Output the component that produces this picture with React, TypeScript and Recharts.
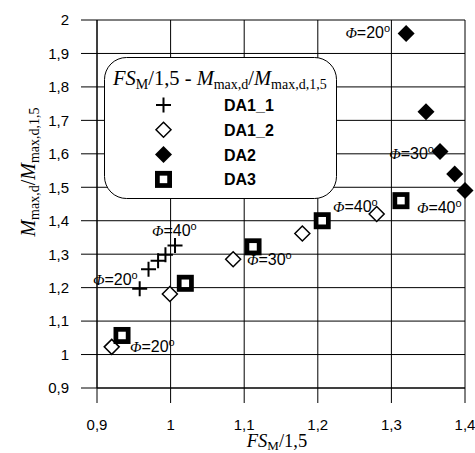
import React from 'react';
import { ScatterChart, Scatter, XAxis, YAxis, CartesianGrid, Legend, Label } from 'recharts';

// Axis ticks
const xTicks = [0.9, 1.0, 1.1, 1.2, 1.3, 1.4];
const yTicks = [0.9, 1.0, 1.1, 1.2, 1.3, 1.4, 1.5, 1.6, 1.7, 1.8, 1.9, 2.0];

// FS_M/1,5 (x) against M_max,d/M_max,d,1,5 (y); phi = friction angle tag (degrees)
const da1_1X = [0.958, 0.97, 0.983, 0.993, 1.006];
const da1_1Y = [1.197, 1.255, 1.28, 1.298, 1.326];
const da1_1Phi = [20, null, null, null, 40];

const da1_2X = [0.92, 0.999, 1.085, 1.179, 1.28];
const da1_2Y = [1.023, 1.181, 1.285, 1.362, 1.42];
const da1_2Phi = [null, null, null, null, 40];

const da2X = [1.32, 1.347, 1.366, 1.386, 1.4];
const da2Y = [1.96, 1.726, 1.607, 1.54, 1.49];
const da2Phi = [20, null, 30, null, null];

const da3X = [0.934, 1.02, 1.112, 1.206, 1.313];
const da3Y = [1.057, 1.213, 1.322, 1.4, 1.46];
const da3Phi = [20, null, 30, null, 40];

const seriesNames = ['DA1_1', 'DA1_2', 'DA2', 'DA3'];

type Pt = { x: number; y: number; phi: number | null; i: number };
const toPoints = (xs: number[], ys: number[], phis: (number | null)[]): Pt[] =>
  xs.map((x, i) => ({ x, y: ys[i], phi: phis[i], i }));

const SANS = 'Liberation Sans, Arial, sans-serif';
const SERIF = 'Liberation Serif, Times New Roman, serif';

// Marker glyphs
const PlusMark = ({ cx, cy }: { cx: number; cy: number }) => (
  <path d={`M${cx - 7.5},${cy}H${cx + 7.5}M${cx},${cy - 7.5}V${cy + 7.5}`} stroke="#000" strokeWidth={2} fill="none" />
);
const OpenDiamond = ({ cx, cy }: { cx: number; cy: number }) => (
  <path d={`M${cx},${cy - 7.5}L${cx + 7.5},${cy}L${cx},${cy + 7.5}L${cx - 7.5},${cy}Z`} fill="#fff" stroke="#000" strokeWidth={1.5} />
);
const FilledDiamond = ({ cx, cy }: { cx: number; cy: number }) => (
  <path d={`M${cx},${cy - 8.5}L${cx + 8.5},${cy}L${cx},${cy + 8.5}L${cx - 8.5},${cy}Z`} fill="#000" />
);
const SquareMark = ({ cx, cy }: { cx: number; cy: number }) => (
  <g>
    <rect x={cx - 8.5} y={cy - 8.5} width={17} height={17} fill="#000" />
    <rect x={cx - 3.75} y={cy - 3.75} width={7.5} height={7.5} fill="#fff" />
  </g>
);

const markers: Record<string, React.FC<{ cx: number; cy: number }>> = {
  DA1_1: PlusMark,
  DA1_2: OpenDiamond,
  DA2: FilledDiamond,
  DA3: SquareMark,
};

type Place = { dx: number; dy: number; anchor: 'start' | 'end' };

// Where each phi tag sits relative to its point
const places: Record<string, (Place | null)[]> = {
  DA1_1: [{ dx: -2, dy: -3.5, anchor: 'end' }, null, null, null, { dx: -23, dy: -9.5, anchor: 'start' }],
  DA1_2: [null, null, null, null, { dx: 1, dy: -2.5, anchor: 'end' }],
  DA2: [{ dx: -16, dy: 5, anchor: 'end' }, null, { dx: -6, dy: 7.5, anchor: 'end' }, null, null],
  DA3: [{ dx: 8, dy: 16.5, anchor: 'start' }, null, { dx: -6, dy: 18.5, anchor: 'start' }, null, { dx: 16, dy: 12.5, anchor: 'start' }],
};

const PhiText = ({ x, y, anchor, value }: { x: number; y: number; anchor: string; value: number }) => (
  <text x={x} y={y} textAnchor={anchor} fill="#000" fontFamily={SANS} fontSize={16}>
    <tspan fontFamily={SERIF} fontStyle="italic" fontSize={15}>Φ</tspan>
    <tspan>={value}</tspan>
    <tspan fontSize={11} dy={-6}>o</tspan>
  </text>
);

const pointShape = (name: string) => (p: any) => {
  const { cx, cy, payload } = p;
  const M = markers[name];
  const pl = places[name][payload.i];
  return (
    <g>
      <M cx={cx} cy={cy} />
      {payload.phi != null && pl && (
        <PhiText x={cx + pl.dx} y={cy + pl.dy} anchor={pl.anchor} value={payload.phi} />
      )}
    </g>
  );
};

const renderLegend = (props: any) => {
  const payload = props.payload || [];
  return (
    <svg width={234} height={143} style={{ display: 'block' }}>
      <rect x={0.5} y={0.5} width={232} height={141} rx={22} ry={22} fill="#fff" stroke="#000" strokeWidth={1} />
      <text x={9} y={28} fontFamily={SERIF} fontSize={20.5} fill="#000">
        <tspan fontStyle="italic">FS</tspan>
        <tspan fontSize={14} dy={4}>M</tspan>
        <tspan dy={-4}>/1,5 - </tspan>
        <tspan fontStyle="italic">M</tspan>
        <tspan fontSize={14} dy={4}>max,d</tspan>
        <tspan dy={-4}>/</tspan>
        <tspan fontStyle="italic">M</tspan>
        <tspan fontSize={14} dy={4}>max,d,1,5</tspan>
      </text>
      {payload.map((entry: any, k: number) => {
        const M = markers[entry.value];
        const cy = 48 + k * 24.8;
        return (
          <g key={entry.value}>
            {M && <M cx={59.5} cy={cy} />}
            <text x={120} y={cy + 6} fontFamily={SANS} fontWeight="bold" fontSize={16} fill="#000">
              {entry.value}
            </text>
          </g>
        );
      })}
    </svg>
  );
};

const XTitle = (props: any) => {
  const vb = props.viewBox;
  return (
    <text x={vb.x + vb.width / 2 - 4} y={vb.y + 59} textAnchor="middle" fontFamily={SERIF} fontSize={18.5} fill="#000">
      <tspan fontStyle="italic">FS</tspan>
      <tspan fontSize={13} dy={2.5}>M</tspan>
      <tspan dy={-2.5}>/1,5</tspan>
    </text>
  );
};

const YTitle = (props: any) => {
  const vb = props.viewBox;
  const x = vb.x + 35;
  const y = vb.y + 152;
  return (
    <text x={x} y={y} transform={`rotate(-90, ${x}, ${y})`} textAnchor="middle" fontFamily={SERIF} fontSize={20} fill="#000">
      <tspan fontStyle="italic">M</tspan>
      <tspan fontSize={14} dy={4}>max,d</tspan>
      <tspan dy={-4}>/</tspan>
      <tspan fontStyle="italic">M</tspan>
      <tspan fontSize={14} dy={4}>max,d,1,5</tspan>
    </text>
  );
};

const fmt = (v: number) => String(Math.round(v * 10) / 10).replace('.', ',');

export default function App() {
  return (
    <div style={{ position: 'absolute', left: 0, top: 0, width: 475, height: 453, background: '#fff' }}>
      <ScatterChart width={475} height={453} margin={{ top: 20, right: 10, bottom: 0, left: 0 }}>
        <CartesianGrid stroke="#000" strokeWidth={1} />
        <XAxis
          type="number"
          dataKey="x"
          domain={[0.9, 1.4]}
          ticks={xTicks}
          tickFormatter={fmt}
          height={65}
          tickSize={15}
          tickMargin={16}
          axisLine={{ stroke: '#000' }}
          tickLine={{ stroke: '#000' }}
          tick={{ fill: '#000', fontSize: 15, fontFamily: SANS }}
          interval={0}
        >
          <Label content={XTitle} />
        </XAxis>
        <YAxis
          type="number"
          dataKey="y"
          domain={[0.9, 2]}
          ticks={yTicks}
          tickFormatter={fmt}
          width={97}
          tickSize={16}
          tickMargin={12}
          axisLine={{ stroke: '#000' }}
          tickLine={{ stroke: '#000' }}
          tick={{ fill: '#000', fontSize: 15, fontFamily: SANS }}
          interval={0}
        >
          <Label content={YTitle} />
        </YAxis>
        <Legend
          layout="vertical"
          align="center"
          verticalAlign="middle"
          content={renderLegend}
          wrapperStyle={{ left: 104, top: 57, width: 234, height: 143 }}
        />
        <Scatter name={seriesNames[0]} data={toPoints(da1_1X, da1_1Y, da1_1Phi)} shape={pointShape('DA1_1')} isAnimationActive={false} />
        <Scatter name={seriesNames[1]} data={toPoints(da1_2X, da1_2Y, da1_2Phi)} shape={pointShape('DA1_2')} isAnimationActive={false} />
        <Scatter name={seriesNames[2]} data={toPoints(da2X, da2Y, da2Phi)} shape={pointShape('DA2')} isAnimationActive={false} />
        <Scatter name={seriesNames[3]} data={toPoints(da3X, da3Y, da3Phi)} shape={pointShape('DA3')} isAnimationActive={false} />
      </ScatterChart>
    </div>
  );
}
